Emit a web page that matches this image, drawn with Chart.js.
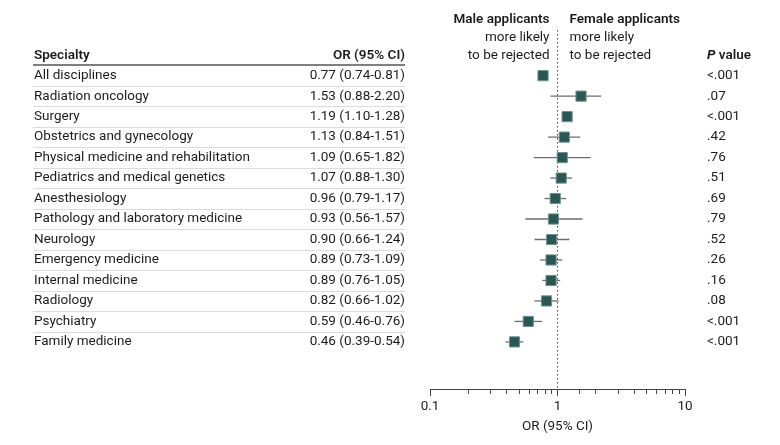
<!DOCTYPE html>
<html>
<head>
<meta charset="utf-8">
<script src="https://cdn.jsdelivr.net/npm/chart.js@4"></script>
<style>
html,body{margin:0;padding:0;background:#fff;}
canvas{display:block;}
</style>
</head>
<body>
<canvas id="c" width="780" height="445"></canvas>
<script>
const specialties = ["All disciplines","Radiation oncology","Surgery","Obstetrics and gynecology","Physical medicine and rehabilitation","Pediatrics and medical genetics","Anesthesiology","Pathology and laboratory medicine","Neurology","Emergency medicine","Internal medicine","Radiology","Psychiatry","Family medicine"];
const orValues = [0.77,1.53,1.19,1.13,1.09,1.07,0.96,0.93,0.90,0.89,0.89,0.82,0.59,0.46];
const ciLow  = [0.74,0.88,1.10,0.84,0.65,0.88,0.79,0.56,0.66,0.73,0.76,0.66,0.46,0.39];
const ciHigh = [0.81,2.20,1.28,1.51,1.82,1.30,1.17,1.57,1.24,1.09,1.05,1.02,0.76,0.54];
const pValues = ["<.001",".07","<.001",".42",".76",".51",".69",".79",".52",".26",".16",".08","<.001","<.001"];
const tickLabels = [0.1, 1, 10];

const FONT = "Roboto";
const TXT = "#1c1c1c";

const ciDatasets = specialties.map((s, i) => ({
  type: 'scatter', showLine: true,
  data: [{x: ciLow[i], y: i}, {x: ciHigh[i], y: i}],
  borderColor: '#6e6e6e', borderWidth: 1.3, pointRadius: 0, order: 2
}));

const tablePlugin = {
  id: 'table',
  afterDraw(chart) {
    const ctx = chart.ctx;
    const y = chart.scales.y;
    const x = chart.scales.x;
    const hy = y.getPixelForValue(-1);
    ctx.save();
    ctx.textBaseline = 'middle';
    ctx.fillStyle = TXT;
    // header row
    ctx.font = `600 13.5px ${FONT}`;
    ctx.textAlign = 'left';
    ctx.fillText('Specialty', 34, hy);
    ctx.textAlign = 'right';
    ctx.fillText('OR (95% CI)', 405, hy);
    // P value header
    ctx.textAlign = 'left';
    ctx.font = `italic 700 13.5px ${FONT}`;
    ctx.fillText('P', 707, hy);
    const pw = ctx.measureText('P ').width;
    ctx.font = `600 13.5px ${FONT}`;
    ctx.fillText('value', 707 + pw, hy);
    // header rule
    ctx.strokeStyle = '#555';
    ctx.lineWidth = 1.6;
    ctx.beginPath();
    const ry = Math.round(y.getPixelForValue(-0.5)) ;
    ctx.moveTo(33, ry); ctx.lineTo(405, ry); ctx.stroke();
    // separators
    ctx.strokeStyle = '#dcdcdc';
    ctx.lineWidth = 1;
    for (let i = 0; i < specialties.length - 1; i++) {
      const sy = Math.round(y.getPixelForValue(i + 0.5)) + 0.5;
      ctx.beginPath(); ctx.moveTo(33, sy); ctx.lineTo(405, sy); ctx.stroke();
    }
    // rows
    ctx.font = `400 13.5px ${FONT}`;
    specialties.forEach((s, i) => {
      const py = y.getPixelForValue(i);
      const ci = `${orValues[i].toFixed(2)} (${ciLow[i].toFixed(2)}-${ciHigh[i].toFixed(2)})`;
      ctx.textAlign = 'left';
      ctx.fillText(s, 34, py);
      ctx.textAlign = 'right';
      ctx.fillText(ci, 405, py);
      ctx.textAlign = 'left';
      ctx.fillText(pValues[i], 707, py);
    });
    // direction headers
    const x1 = x.getPixelForValue(1);
    const lines = [hy - 36, hy - 18, hy];
    ctx.textAlign = 'right';
    ctx.font = `600 13.5px ${FONT}`;
    ctx.fillText('Male applicants', x1 - 8, lines[0]);
    ctx.font = `400 13.5px ${FONT}`;
    ctx.fillText('more likely', x1 - 8, lines[1]);
    ctx.fillText('to be rejected', x1 - 8, lines[2]);
    ctx.textAlign = 'left';
    ctx.font = `600 13.5px ${FONT}`;
    ctx.fillText('Female applicants', x1 + 12, lines[0]);
    ctx.font = `400 13.5px ${FONT}`;
    ctx.fillText('more likely', x1 + 12, lines[1]);
    ctx.fillText('to be rejected', x1 + 12, lines[2]);
    ctx.restore();
  }
};

new Chart(document.getElementById('c'), {
  type: 'scatter',
  data: {
    datasets: [
      {
        type: 'scatter', showLine: true,
        data: [{x: 1, y: -2.23}, {x: 1, y: 15.3}],
        borderColor: '#444', borderWidth: 1, borderDash: [1.5, 2.5], pointRadius: 0, order: 3
      },
      ...ciDatasets,
      {
        type: 'scatter',
        data: orValues.map((v, i) => ({x: v, y: i})),
        pointStyle: 'rect', pointRadius: 7.2,
        backgroundColor: '#2a5653', borderColor: '#6f9390', borderWidth: 1, order: 1
      }
    ]
  },
  options: {
    responsive: false,
    devicePixelRatio: 1,
    animation: false,
    layout: {padding: {left: 430, right: 95, top: 30, bottom: 0}},
    plugins: {legend: {display: false}, tooltip: {enabled: false}},
    scales: {
      x: {
        type: 'logarithmic', min: 0.1, max: 10,
        border: {display: true, color: '#444', width: 1},
        grid: {
          drawOnChartArea: false, drawTicks: true, tickLength: 7,
          color: '#444', tickColor: '#444',
          tickBorderDash: (c) => tickLabels.includes(c.tick && c.tick.value) ? [] : [4, 40]
        },
        ticks: {
          autoSkip: false, maxRotation: 0, padding: 3, color: TXT,
          font: {family: FONT, size: 13.5},
          callback: (v) => tickLabels.includes(v) ? String(v) : ''
        },
        title: {display: true, text: 'OR (95% CI)', color: TXT, font: {family: FONT, size: 13.5}, padding: {top: 2, bottom: 10}},
        afterFit: (s) => { s.height = 56; }
      },
      y: {type: 'linear', reverse: true, min: -2.23, max: 15.3, display: false}
    }
  },
  plugins: [tablePlugin]
});
</script>
</body>
</html>
